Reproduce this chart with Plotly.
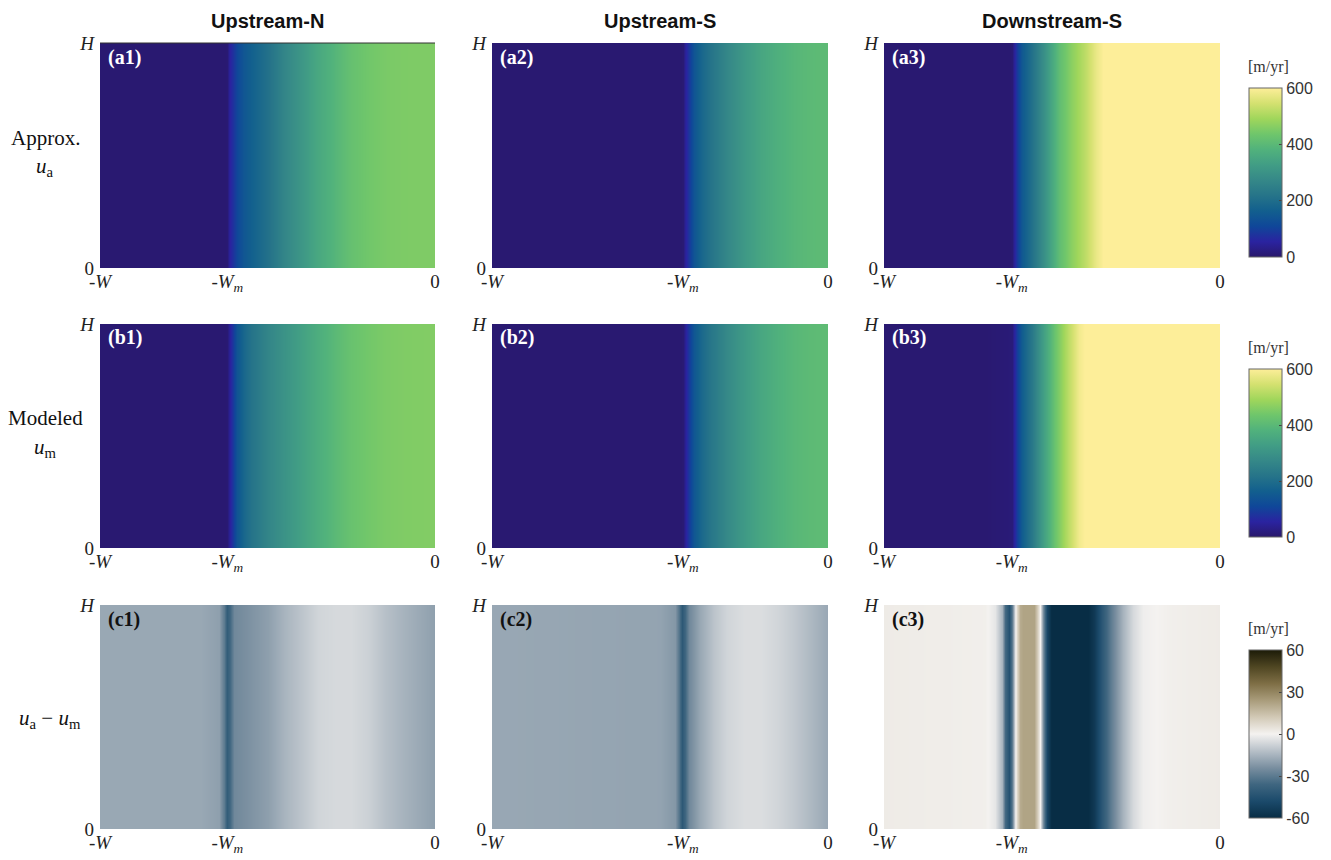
import plotly.graph_objects as go
import plotly.express as px

# ---------------- data (cross-flow profiles, x in units of W: -W .. 0) ----------------
col_titles = ["Upstream-N", "Upstream-S", "Downstream-S"]
Wm = [0.62, 0.432, 0.62]

x_a1 = [-1.0, -0.63, -0.62, -0.615, -0.605, -0.59, -0.57, -0.55, -0.50, -0.45, -0.40, -0.35, -0.30, -0.25, -0.20, -0.15, -0.10, 0.0]
z_a1 = [6, 6, 8, 45, 70, 110, 145, 165, 210, 265, 310, 355, 390, 420, 438, 448, 452, 455]
x_b1 = x_a1
z_b1 = [6, 6, 8, 40, 75, 140, 185, 215, 265, 300, 335, 370, 400, 425, 440, 450, 455, 458]

x_a2 = [-1.0, -0.438, -0.432, -0.426, -0.418, -0.40, -0.375, -0.35, -0.30, -0.25, -0.20, -0.15, -0.10, -0.05, 0.0]
z_a2 = [6, 6, 10, 45, 75, 140, 185, 215, 270, 315, 350, 375, 392, 402, 405]
x_b2 = x_a2
z_b2 = [6, 6, 10, 42, 78, 145, 190, 222, 275, 318, 352, 378, 395, 404, 408]

x_a3 = [-1.0, -0.625, -0.619, -0.614, -0.605, -0.59, -0.56, -0.52, -0.48, -0.44, -0.40, -0.37, -0.34, -0.30, 0.0]
z_a3 = [6, 6, 10, 45, 90, 150, 210, 300, 410, 470, 525, 575, 610, 630, 640]
x_b3 = [-1.0, -0.70, -0.63, -0.619, -0.614, -0.605, -0.59, -0.56, -0.53, -0.49, -0.46, -0.42, -0.38, -0.30, 0.0]
z_b3 = [6, 6, 12, 15, 50, 95, 160, 230, 320, 430, 500, 585, 620, 635, 640]

x_c1 = [-1.0, -0.70, -0.645, -0.63, -0.622, -0.612, -0.60, -0.55, -0.50, -0.45, -0.40, -0.35, -0.30, -0.25, -0.20, -0.15, -0.10, 0.0]
z_c1 = [-18, -18, -20, -30, -40, -35, -26, -23, -20, -15, -11, -7, -6, -6, -8, -12, -15, -20]
x_c2 = [-1.0, -0.50, -0.455, -0.442, -0.434, -0.426, -0.415, -0.38, -0.34, -0.30, -0.25, -0.20, -0.15, -0.10, -0.05, 0.0]
z_c2 = [-18, -19, -22, -32, -42, -36, -26, -18, -11, -7, -5, -5, -7, -10, -14, -18]
x_c3 = [-1.0, -0.70, -0.67, -0.65, -0.64, -0.628, -0.618, -0.61, -0.603, -0.595, -0.585, -0.555, -0.545, -0.537,
        -0.528, -0.515, -0.50, -0.40, -0.375, -0.35, -0.32, -0.29, -0.26, -0.23, -0.15, 0.0]
z_c3 = [2, 1, -3, -15, -35, -45, -30, -3, 8, 20, 22, 22, 12, 0, -25, -50, -62, -62, -55, -42, -28, -15, -6, -1, 1, 2]

panels = [
    [("(a1)", x_a1, z_a1), ("(a2)", x_a2, z_a2), ("(a3)", x_a3, z_a3)],
    [("(b1)", x_b1, z_b1), ("(b2)", x_b2, z_b2), ("(b3)", x_b3, z_b3)],
    [("(c1)", x_c1, z_c1), ("(c2)", x_c2, z_c2), ("(c3)", x_c3, z_c3)],
]
row_labels = [["Approx.", "<i>u</i><sub>a</sub>"], ["Modeled", "<i>u</i><sub>m</sub>"],
              ["<i>u</i><sub>a</sub> − <i>u</i><sub>m</sub>"]]
cbar_ticks = [[0, 200, 400, 600], [0, 200, 400, 600], [-60, -30, 0, 30, 60]]
cbar_text = [["0", "200", "400", "600"], ["0", "200", "400", "600"], ["-60", "-30", "0", "30", "60"]]
cbar_range = [(0, 600), (0, 600), (-60, 60)]

# ---------------- styles ----------------
WIN_W, WIN_H = 1331, 860
OFF = 8                      # default page body margin
FIG_W, FIG_H = WIN_W - OFF, WIN_H - OFF
col_px = [(100, 435), (492, 828), (884, 1220)]
row_px = [(43, 268), (324, 548), (605, 829)]
cbar_px = [(88, 257), (369, 537), (650, 818)]
SERIF = "Liberation Serif"
SANS = "Liberation Sans"

haline = px.colors.cmocean.haline
diff_scale = [
    [0.0, "#082d45"], [0.1, "#1b4a6b"], [0.2, "#3f6680"], [0.3, "#7a8fa0"], [0.4, "#b7c0c8"],
    [0.5, "#f4f2f0"], [0.6, "#d2c9b6"], [0.7, "#a99c7b"], [0.8, "#7e6e45"], [0.9, "#4f4622"],
    [1.0, "#1c1b08"],
]
scales = [haline, haline, diff_scale]

def px2x(p):
    return (p - OFF) / FIG_W

def px2y(p):
    return 1 - (p - OFF) / FIG_H

fig = go.Figure()
layout = {}
annotations = []

for r in range(3):
    ca = "coloraxis" if r == 0 else f"coloraxis{r + 1}"
    for c in range(3):
        idx = r * 3 + c + 1
        sfx = "" if idx == 1 else str(idx)
        label, xs, zs = panels[r][c]
        fig.add_trace(go.Heatmap(
            x=xs, y=[0, 1], z=[zs, zs], zsmooth="best", coloraxis=ca,
            xaxis="x" + sfx, yaxis="y" + sfx, hoverinfo="skip"))
        layout["xaxis" + sfx] = dict(
            domain=[px2x(col_px[c][0]), px2x(col_px[c][1])], anchor="y" + sfx,
            range=[-1, 0], showgrid=False, zeroline=False, showline=False, ticks="",
            automargin=False, tickvals=[-1, -Wm[c], 0],
            ticktext=["-<i>W</i>", "-<i>W<sub>m</sub></i>", "0"],
            tickfont=dict(family=SERIF, size=19, color="#222"), fixedrange=True)
        layout["yaxis" + sfx] = dict(
            domain=[px2y(row_px[r][1]), px2y(row_px[r][0])], anchor="x" + sfx,
            range=[0, 1], showgrid=False, zeroline=False, showline=False, ticks="",
            automargin=False, tickvals=[0, 1], ticktext=["0", "<i>H</i>"],
            ticklabelstandoff=5,
            tickfont=dict(family=SERIF, size=19, color="#222"), fixedrange=True)
        annotations.append(dict(
            x=px2x(col_px[c][0] + 6), y=px2y(row_px[r][0] + 14), xref="paper", yref="paper",
            xanchor="left", yanchor="middle", showarrow=False, text=f"<b>{label}</b>",
            font=dict(family=SERIF, size=20, color="white" if r < 2 else "#111")))
    cy0, cy1 = cbar_px[r]
    layout[ca] = dict(
        colorscale=scales[r], cmin=cbar_range[r][0], cmax=cbar_range[r][1],
        colorbar=dict(
            x=px2x(1249), xanchor="left", xpad=0, y=px2y((cy0 + cy1) / 2), yanchor="middle",
            ypad=0, len=cy1 - cy0, lenmode="pixels", thickness=33, thicknessmode="pixels",
            tickvals=cbar_ticks[r], ticktext=cbar_text[r], ticks="inside", ticklen=3,
            tickcolor="#444", outlinewidth=1, outlinecolor="#666",
            tickfont=dict(family=SANS, size=16, color="#333")))
    annotations.append(dict(
        x=px2x(1268), y=px2y(cy0 - 21), xref="paper", yref="paper", xanchor="center",
        yanchor="middle", showarrow=False, text="[m/yr]",
        font=dict(family=SERIF, size=16, color="#333")))
    # row labels
    rmid = (row_px[r][0] + row_px[r][1]) / 2
    if len(row_labels[r]) == 2:
        annotations.append(dict(x=px2x(45), y=px2y(rmid - 18), xref="paper", yref="paper",
                                xanchor="center", yanchor="middle", showarrow=False,
                                text=row_labels[r][0], font=dict(family=SERIF, size=21, color="#111")))
        annotations.append(dict(x=px2x(45), y=px2y(rmid + 12), xref="paper", yref="paper",
                                xanchor="center", yanchor="middle", showarrow=False,
                                text=row_labels[r][1], font=dict(family=SERIF, size=21, color="#111")))
    else:
        annotations.append(dict(x=px2x(50), y=px2y(rmid + 2), xref="paper", yref="paper",
                                xanchor="center", yanchor="middle", showarrow=False,
                                text=row_labels[r][0], font=dict(family=SERIF, size=21, color="#111")))

for c in range(3):
    annotations.append(dict(
        x=px2x((col_px[c][0] + col_px[c][1]) / 2), y=px2y(8), xref="paper", yref="paper",
        xanchor="center", yanchor="top", showarrow=False, text=f"<b>{col_titles[c]}</b>",
        font=dict(family=SANS, size=20, color="#111")))

# thin frame line on top edge of panel (a1), as in the reference
shapes = [dict(type="line", xref="x domain", yref="y domain", x0=0, x1=1, y0=1, y1=1,
               line=dict(color="#333333", width=1))]

fig.update_layout(
    width=FIG_W, height=FIG_H, margin=dict(l=0, r=0, t=0, b=0, autoexpand=False),
    paper_bgcolor="white", plot_bgcolor="white", showlegend=False,
    annotations=annotations, shapes=shapes, **layout)

fig.write_html("out.html")
